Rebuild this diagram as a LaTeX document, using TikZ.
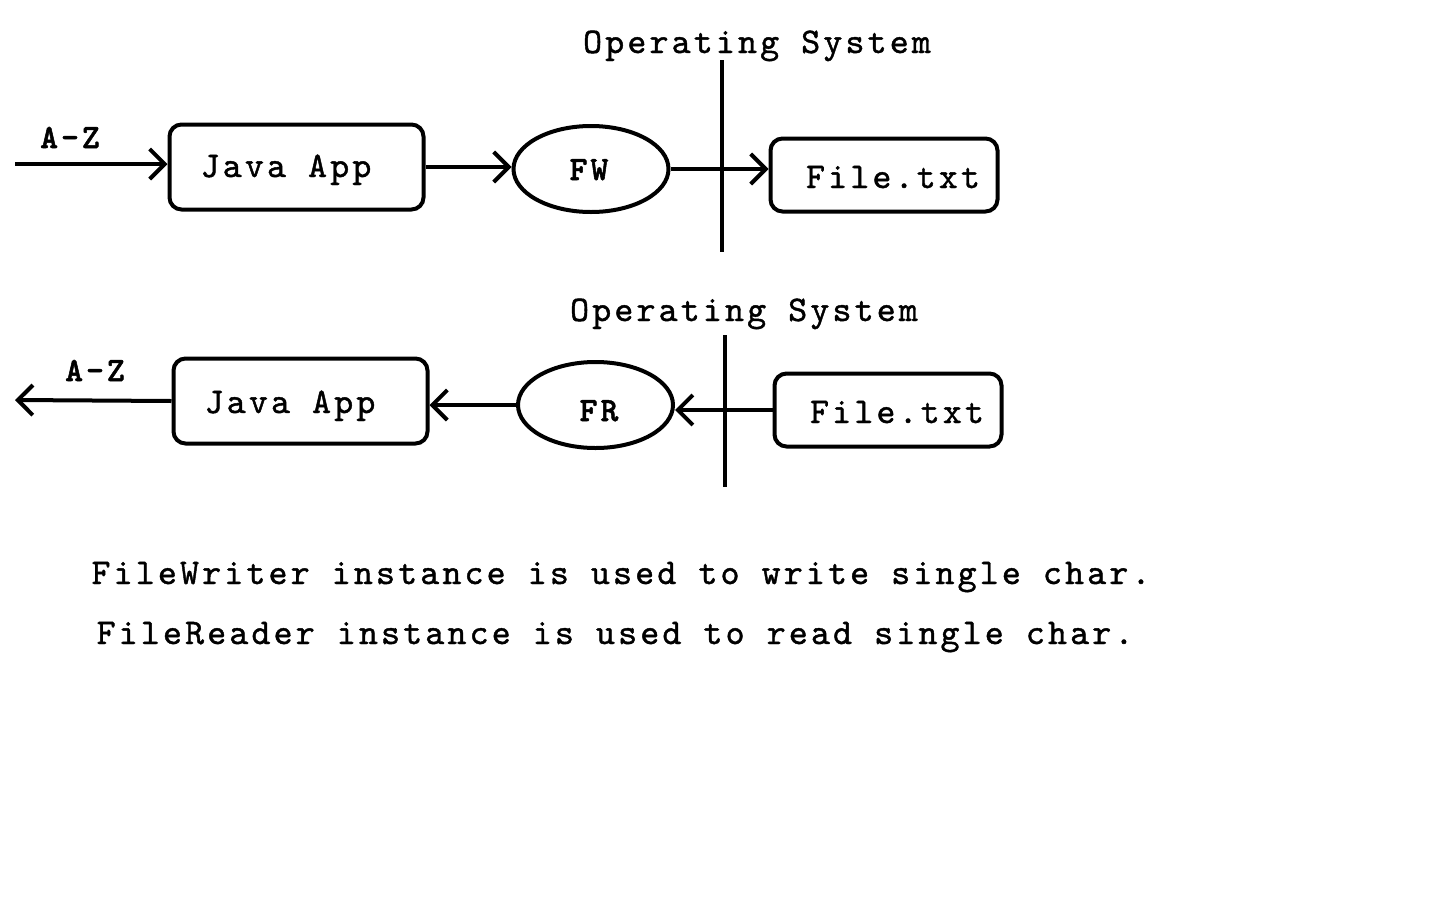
\documentclass[tikz,border=0pt]{standalone}
\usepackage{fontspec}
\setmonofont{lmmono10-regular.otf}[LetterSpace=8.8,FakeBold=1.2,BoldFont=lmmonolt10-bold.otf,BoldFeatures={FakeBold=1.5}]
\usetikzlibrary{arrows.meta,shapes.geometric}
\begin{document}
\begin{tikzpicture}[x=1pt,y=-1pt,
  every node/.style={font=\ttfamily\fontsize{36.1}{42}\selectfont},
  lw/.style={line width=4pt},
  box/.style={lw,draw,rounded corners=12pt,inner sep=0pt},
  oval/.style={lw,draw,ellipse,inner sep=0pt,minimum width=155pt,minimum height=86pt},
  txt/.style={anchor=base,inner sep=0pt},
  btxt/.style={txt,font=\ttfamily\bfseries\fontsize{34}{40}\selectfont},
  arr/.style={lw,-{Straight Barb[length=15pt,width=30pt]}}]
\useasboundingbox (0,0) rectangle (1440,900);
% top row
\node[txt] (os1) at (757,53) {Operating System};
\coordinate (v1a) at (722,60);
\coordinate (v1b) at (722,252);
\draw[lw] (v1a) -- (v1b);
\coordinate (in1) at (15,164);
\node[box,minimum width=254pt,minimum height=85pt] (ja1) at (296.5,167) {};
\node[txt] (ja1t) at (286,177) {Java App};
\node[oval] (fw) at (591,169) {};
\node[btxt] (fwt) at (589,180) {FW};
\node[box,minimum width=227pt,minimum height=73pt] (f1) at (884,175) {};
\node[txt] (f1t) at (893,188) {File.txt};
\node[btxt] (az1) at (70,148) {A-Z};
\draw[arr] (in1) -- (in1 -| ja1.west);
\draw[arr] (ja1.east) -- (ja1.east -| fw.west);
\draw[arr] (fw.east) -- (fw.east -| f1.west);
% bottom row
\node[txt] (os2) at (744,321) {Operating System};
\coordinate (v2a) at (725,335);
\coordinate (v2b) at (725,487);
\draw[lw] (v2a) -- (v2b);
\node[box,minimum width=227pt,minimum height=73pt] (f2) at (888,410) {};
\node[txt] (f2t) at (897,423) {File.txt};
\node[oval] (fr) at (595.5,405) {};
\node[btxt] (frt) at (599,421) {FR};
\node[box,minimum width=254pt,minimum height=85pt] (ja2) at (300.5,401) {};
\node[txt] (ja2t) at (290,413) {Java App};
\node[btxt] (az2) at (95,381) {A-Z};
\coordinate (out2) at (15,400);
\draw[arr] (f2.west) -- (f2.west -| fr.east);
\draw[arr] (fr.west) -- (fr.west -| ja2.east);
\draw[arr] (ja2.west) -- (out2);
% captions
\node[txt] (c1) at (621,584) {FileWriter instance is used to write single char.};
\node[txt] (c2) at (615,644) {FileReader instance is used to read single char.};
\end{tikzpicture}
\end{document}
